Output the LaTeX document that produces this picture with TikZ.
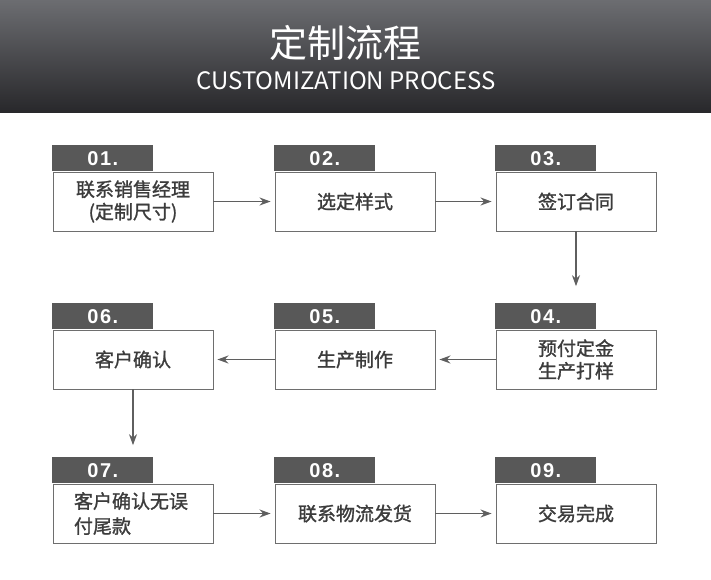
\documentclass[tikz,border=0pt]{standalone}
\usepackage{fontspec}
\setmainfont{Noto Sans CJK SC}
\newfontfamily\boxfont[FakeBold=1.3]{Noto Sans CJK SC}
\newfontfamily\numfont[LetterSpace=8]{Liberation Sans}
\usetikzlibrary{arrows.meta}
\definecolor{tabgray}{RGB}{88,88,88}
\definecolor{linegray}{RGB}{110,110,110}
\definecolor{txtgray}{RGB}{60,60,60}
\definecolor{arrgray}{RGB}{95,95,95}
\definecolor{hdtop}{RGB}{108,109,113}
\definecolor{hdbot}{RGB}{40,40,43}
\tikzset{
  stepbox/.style={draw=linegray, line width=0.9pt, fill=white, minimum width=160pt, minimum height=59pt, inner sep=0pt, text=txtgray, align=center, font=\boxfont\fontsize{19}{22.5}\selectfont},
  tabbox/.style={fill=tabgray, minimum width=101pt, minimum height=26pt, inner sep=0pt, text=white, font=\numfont\bfseries\fontsize{20}{20}\selectfont},
  flow/.style={draw=arrgray, line width=1.3pt, -{Stealth[length=11pt,width=8pt]}}
}
\begin{document}
\begin{tikzpicture}[x=1pt,y=-1pt]
\useasboundingbox (0,0) rectangle (711,579);
\fill[white] (0,0) rectangle (711,579);
\shade[top color=hdtop, bottom color=hdbot] (0,0) rectangle (711,112);
\node[text=white, font=\fontsize{38}{38}\selectfont] (title) at (345,43) {定制流程};
\node[text=white, font=\fontsize{24}{24}\selectfont] (subtitle) at (346,81) {CUSTOMIZATION PROCESS};
% row 1
\node[stepbox] (b1) at (133,201.5) {联系销售经理\\(定制尺寸)};
\node[stepbox] (b2) at (355,201.5) {选定样式};
\node[stepbox] (b3) at (576,201.5) {签订合同};
% row 2
\node[stepbox] (b6) at (133,359.5) {客户确认};
\node[stepbox] (b5) at (355,359.5) {生产制作};
\node[stepbox] (b4) at (576,359.5) {预付定金\\生产打样};
% row 3
\node[stepbox, align=left, text width=118pt, font=\boxfont\fontsize{19}{25}\selectfont] (b7) at (133,513.5) {客户确认无误\\付尾款};
\node[stepbox] (b8) at (355,513.5) {联系物流发货};
\node[stepbox] (b9) at (576,513.5) {交易完成};
% tabs
\foreach \b/\n in {b1/01., b2/02., b3/03., b4/04., b5/05., b6/06., b7/07., b8/08., b9/09.}{
  \node[tabbox, anchor=south west] (t\b) at ([xshift=-0.45pt]\b.north west) {\n};
}
% arrows
\draw[flow, shorten >=4pt] (b1.east) -- (b2.west);
\draw[flow, shorten >=4pt] (b2.east) -- (b3.west);
\draw[flow, shorten >=17pt] (b3.south) -- (tb4.north -| b3.south);
\draw[flow, shorten >=4pt] (b4.west) -- (b5.east);
\draw[flow, shorten >=4pt] (b5.west) -- (b6.east);
\draw[flow, shorten >=12pt] (b6.south) -- (tb7.north -| b6.south);
\draw[flow, shorten >=4pt] (b7.east) -- (b8.west);
\draw[flow, shorten >=4pt] (b8.east) -- (b9.west);
\end{tikzpicture}
\end{document}
